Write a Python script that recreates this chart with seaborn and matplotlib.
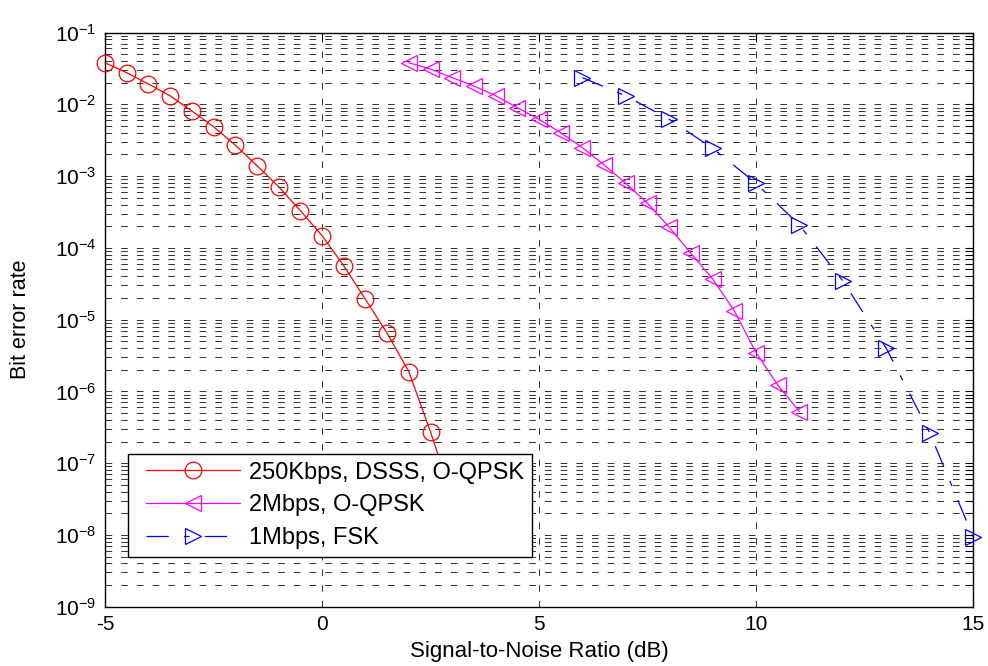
import numpy as np
import matplotlib
matplotlib.use("Agg")
import matplotlib.pyplot as plt
import seaborn as sns
from matplotlib.ticker import LogLocator, NullFormatter
from matplotlib.lines import Line2D
from matplotlib.legend_handler import HandlerLine2D

# ---------------- data ----------------
snr_250k = [-5, -4.5, -4, -3.5, -3, -2.5, -2, -1.5, -1, -0.5, 0, 0.5, 1, 1.5, 2, 2.5, 3]
ber_250k = [3.79e-2, 2.75e-2, 1.92e-2, 1.31e-2, 8.07e-3, 4.88e-3, 2.71e-3, 1.40e-3,
            7.12e-4, 3.30e-4, 1.48e-4, 5.65e-5, 1.92e-5, 6.47e-6, 1.89e-6, 2.73e-7, 3.3e-8]

snr_2m = [2, 2.5, 3, 3.5, 4, 4.5, 5, 5.5, 6, 6.5, 7, 7.5, 8, 8.5, 9, 9.5, 10, 10.5, 11]
ber_2m = [3.79e-2, 3.10e-2, 2.35e-2, 1.80e-2, 1.32e-2, 8.97e-3, 6.18e-3, 4.02e-3, 2.49e-3,
          1.43e-3, 7.94e-4, 4.18e-4, 1.94e-4, 8.41e-5, 3.69e-5, 1.33e-5, 3.47e-6, 1.23e-6, 5.24e-7]

snr_1m = [6, 7, 8, 9, 10, 11, 12, 13, 14, 15]
ber_1m = [2.35e-2, 1.31e-2, 6.18e-3, 2.44e-3, 7.94e-4, 2.08e-4, 3.46e-5, 4.00e-6, 2.67e-7, 9.5e-9]

series_labels = ["250Kbps, DSSS, O-QPSK", "2Mbps, O-QPSK", "1Mbps, FSK"]

x_ticks = [-5, 0, 5, 10, 15]
x_tick_labels = ["-5", "0", "5", "10", "15"]
y_exponents = [-9, -8, -7, -6, -5, -4, -3, -2, -1]
y_tick_labels = [r"$10^{%d}$" % e for e in y_exponents]

x_label = "Signal-to-Noise Ratio (dB)"
y_label = "Bit error rate"

# ---------------- style ----------------
sns.set_style("white")
plt.rcParams.update({
    "font.family": ["Liberation Sans", "DejaVu Sans"],
    "mathtext.fontset": "custom",
    "mathtext.rm": "Liberation Sans",
    "mathtext.it": "Liberation Sans:italic",
    "mathtext.bf": "Liberation Sans:bold",
    "axes.unicode_minus": False,
    "lines.scale_dashes": False,
    "text.color": "black",
    "axes.labelcolor": "black",
    "xtick.color": "black",
    "ytick.color": "black",
    "xtick.labelcolor": "black",
    "ytick.labelcolor": "black",
})

W, H = 988, 666
fig = plt.figure(figsize=(W / 100, H / 100), dpi=100)
left, right, top, bottom = 105, 973, 32.5, 606.7
ax = fig.add_axes([left / W, 1 - bottom / H, (right - left) / W, (bottom - top) / H])

styles = [
    ("#ff0000", "o", "-"),
    ("#ff00ff", "<", "-"),
    ("#0000ff", ">", (0, (16, 11, 4, 11))),
]
data = [(snr_250k, ber_250k), (snr_2m, ber_2m), (snr_1m, ber_1m)]

for (xs, ys), lab, (c, m, ls) in zip(data, series_labels, styles):
    sns.lineplot(x=xs, y=ys, ax=ax, color=c, marker=m, markersize=12,
                 markerfacecolor="none", markeredgecolor=c, markeredgewidth=0.9,
                 linewidth=0.9, linestyle=ls, label=lab, clip_on=False,
                 errorbar=None, sort=False, zorder=3)

ax.set_yscale("log")
ax.set_xlim(-5, 15)
ax.set_ylim(1e-9, 1e-1)
ax.set_xticks(x_ticks)
ax.set_xticklabels(x_tick_labels)
ax.set_yticks([10.0 ** e for e in y_exponents])
ax.set_yticklabels(y_tick_labels)
ax.yaxis.set_minor_locator(LogLocator(base=10, subs=np.arange(2, 10), numticks=100))
ax.yaxis.set_minor_formatter(NullFormatter())

grid_kw = dict(color="#303030", linestyle=(0, (4.8, 6.5)), linewidth=0.7)
ax.grid(True, which="major", axis="both", **grid_kw)
ax.grid(True, which="minor", axis="y", **grid_kw)

ax.tick_params(which="both", direction="in", top=True, right=True, length=6,
               width=0.8, color="black", labelcolor="black", labelsize=15, pad=6)
for s in ax.spines.values():
    s.set_color("black")
    s.set_linewidth(1.0)
    s.set_visible(True)

ax.set_xlabel(x_label, fontsize=16, labelpad=5, color="black")
ax.set_ylabel(y_label, fontsize=15.5, labelpad=17, color="black")

leg = ax.legend(loc="lower left", bbox_to_anchor=(0.0265, 0.087), borderaxespad=0,
                fontsize=17, frameon=True, fancybox=False, framealpha=1,
                edgecolor="black", handlelength=4.4, handletextpad=0.4,
                borderpad=0.33, labelspacing=0.45,
                handler_map={Line2D: HandlerLine2D(xpad=0.42)})
leg.get_frame().set_linewidth(1.0)
leg.set_zorder(5)
for t in leg.get_texts():
    t.set_color("black")

fig.savefig("out.png", dpi=100)
